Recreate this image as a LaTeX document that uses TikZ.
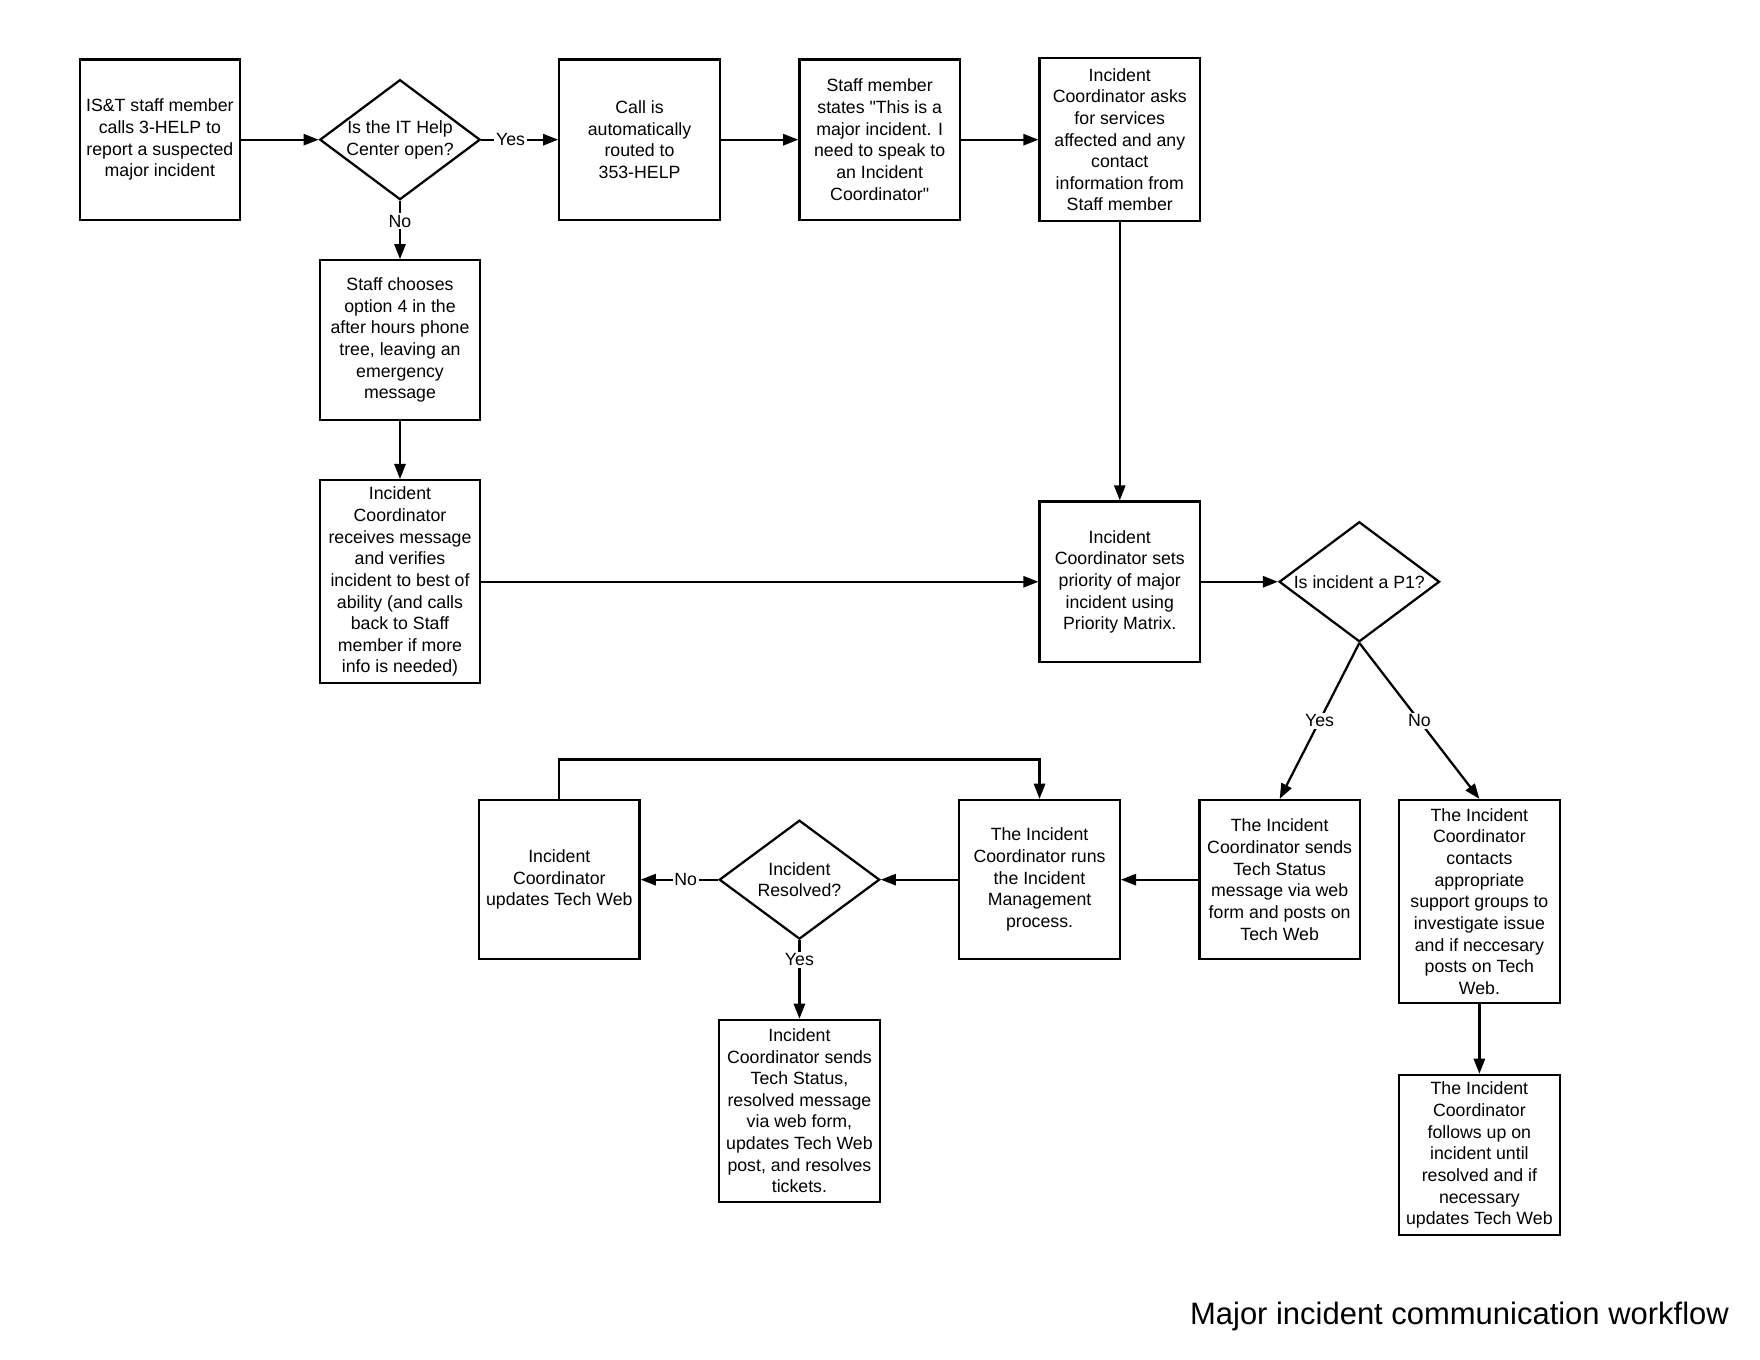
\documentclass[tikz,border=0pt]{standalone}
\usepackage{fontspec}
\setmainfont{Liberation Sans}[Ligatures=TeXOff]
\usetikzlibrary{arrows.meta,shapes.geometric}
\begin{document}
\begin{tikzpicture}[x=1pt,y=-1pt,
  every node/.style={font=\fontsize{15.8}{19.3}\selectfont},
  box/.style={draw, line width=2pt, rectangle, minimum width=143pt, minimum height=143pt, align=center, inner sep=2pt},
  dia/.style={draw, line width=2pt, diamond, minimum width=143pt, minimum height=107pt, inner sep=0pt},
  dtext/.style={align=center, inner sep=0pt},
  arr/.style={line width=2pt, -{Triangle[length=13.5pt,width=10pt]}},
  lbl/.style={fill=white, inner sep=1.5pt}]
\fill[white] (0,0) rectangle (1568.6,1212.1);
\useasboundingbox (0,0) rectangle (1568.6,1212.1);

\node[box] (b1) at (142.5,124.5) {IS\&T staff member\\calls 3-HELP to\\report a suspected\\major incident};
\node[dia, label={[dtext]center:Is the IT Help\\Center open?}] (d1) at (356.5,124.5) {};
\node[box] (b2) at (570,124.5) {Call is\\automatically\\routed to\\353-HELP};
\node[box] (b3) at (784,124.5) {Staff member\\states "This is a\\major incident. I\\need to speak to\\an Incident\\Coordinator"};
\node[box, minimum height=145pt] (b4) at (998,124.5) {Incident\\Coordinator asks\\for services\\affected and any\\contact\\information from\\Staff member};
\node[box, minimum height=142pt] (b5) at (356.5,303) {Staff chooses\\option 4 in the\\after hours phone\\tree, leaving an\\emergency\\message};
\node[box, minimum height=181pt] (b6) at (356.5,518.5) {Incident\\Coordinator\\receives message\\and verifies\\incident to best of\\ability (and calls\\back to Staff\\member if more\\info is needed)};
\node[box] (b7) at (998,518.5) {Incident\\Coordinator sets\\priority of major\\incident using\\Priority Matrix.};
\node[dia, label={[dtext]center:Is incident a P1?}] (d2) at (1211.5,518.5) {};
\node[box, minimum height=142pt] (b8) at (1140.5,784) {The Incident\\Coordinator sends\\Tech Status\\message via web\\form and posts on\\Tech Web};
\node[box, minimum height=181pt] (b9) at (1318.5,803.5) {The Incident\\Coordinator\\contacts\\appropriate\\support groups to\\investigate issue\\and if neccesary\\posts on Tech\\Web.};
\node[box] (b10) at (1318.5,1029.5) {The Incident\\Coordinator\\follows up on\\incident until\\resolved and if\\necessary\\updates Tech Web};
\node[box, minimum height=142pt] (b11) at (926.5,784) {The Incident\\Coordinator runs\\the Incident\\Management\\process.};
\node[dia, minimum height=106pt, label={[dtext]center:Incident\\Resolved?}] (d3) at (712.5,784) {};
\node[box, minimum height=142pt] (b12) at (498.5,784) {Incident\\Coordinator\\updates Tech Web};
\node[box, minimum height=162pt] (b13) at (712.5,990) {Incident\\Coordinator sends\\Tech Status,\\resolved message\\via web form,\\updates Tech Web\\post, and resolves\\tickets.};

\node[anchor=east, font=\fontsize{27.6}{33}\selectfont, inner sep=0pt] (title) at (1541,1173) {Major incident communication workflow};

\draw[arr] (b1) -- (d1);
\draw[arr] (d1) -- node[lbl, pos=0.38]{Yes} (b2);
\draw[arr] (b2) -- (b3);
\draw[arr] (b3) -- (b4);
\draw[arr] (d1) -- node[lbl, pos=0.35]{No} (b5);
\draw[arr] (b5) -- (b6);
\draw[arr] (b4) -- (b7);
\draw[arr] (b6) -- (b7);
\draw[arr] (b7) -- (d2);
\draw[arr] (d2.south) -- node[lbl]{Yes} (b8.north);
\draw[arr] (d2.south) -- node[lbl]{No} (b9.north);
\draw[arr] (b9) -- (b10);
\draw[arr] (b8) -- (b11);
\draw[arr] (b11) -- (d3);
\draw[arr] (d3) -- node[lbl, pos=0.42]{No} (b12);
\draw[arr] (d3) -- node[lbl, pos=0.25]{Yes} (b13);
\draw[arr] (b12.north) -- ++(0,-35) -| (b11.north);
\end{tikzpicture}
\end{document}
